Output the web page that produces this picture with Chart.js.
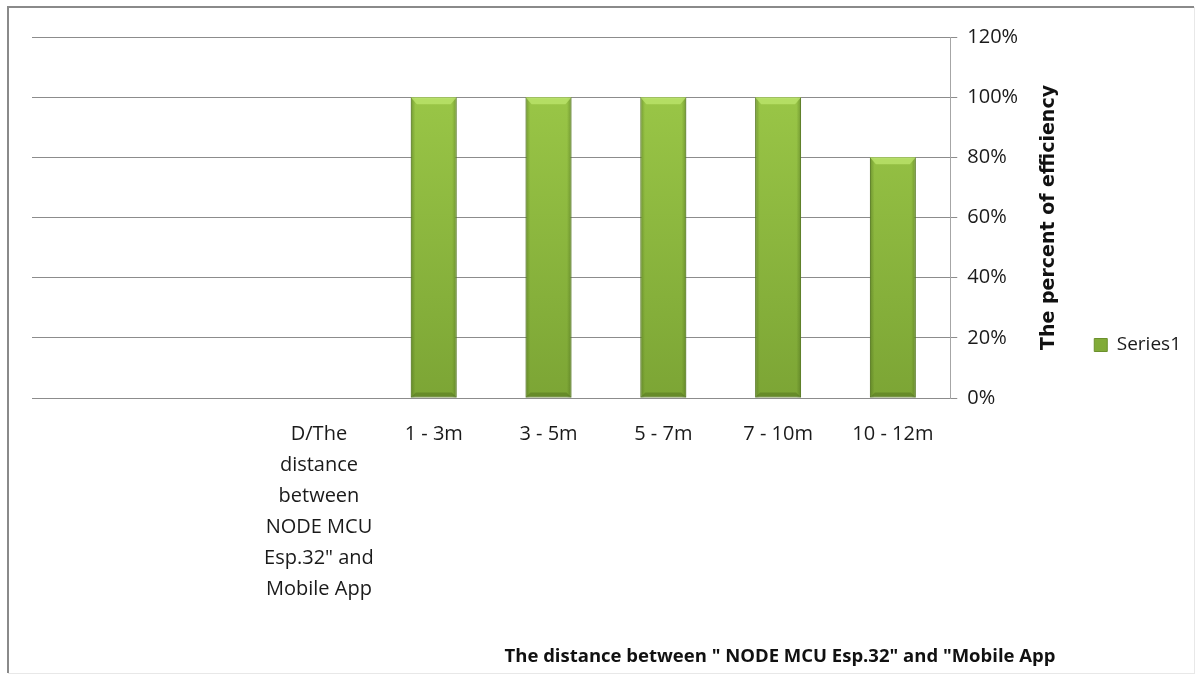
<!DOCTYPE html>
<html>
<head>
<meta charset="utf-8">
<script src="https://cdn.jsdelivr.net/npm/chart.js@4.4.1/dist/chart.umd.min.js"></script>
<style>
  html, body { margin: 0; padding: 0; background: #fff; }
  #wrap { position: relative; width: 1197px; height: 677px; }
</style>
</head>
<body>
<div id="wrap"><canvas id="chart" width="1197" height="677"></canvas></div>
<script>
// data (two blank slots precede the header column)
var categories = ['', '', ['D/The', 'distance', 'between', 'NODE MCU', 'Esp.32" and', 'Mobile App'],
    '1 - 3m', '3 - 5m', '5 - 7m', '7 - 10m', '10 - 12m'];
var efficiency = [null, null, null, 100, 100, 100, 100, 80];
var yTicks = [0, 20, 40, 60, 80, 100, 120];
var seriesName = 'Series1';
var yTitle = 'The percent of efficiency';
var xTitle = 'The distance between " NODE MCU Esp.32" and "Mobile App';

var labelFont = 'Open Sans';

// grey frame round the whole chart, like the Excel chart border
var framePlugin = {
    id: 'frame',
    beforeDraw: function (chart) {
        var c = chart.ctx;
        c.save();
        c.fillStyle = '#fff';
        c.fillRect(0, 0, chart.width, chart.height);
        c.strokeStyle = '#e8e8e8';
        c.lineWidth = 1;
        c.strokeRect(8.5, 7.5, chart.width - 11, chart.height - 11);
        c.strokeStyle = '#8a8a8a';
        c.lineWidth = 2;
        c.beginPath();
        c.moveTo(8, chart.height - 4);
        c.lineTo(8, 7);
        c.lineTo(chart.width - 3, 7);
        c.stroke();
        c.restore();
    }
};

// bevel / shading on each bar, taken from the bar elements
var bevelPlugin = {
    id: 'bevel',
    afterDatasetsDraw: function (chart) {
        var c = chart.ctx;
        var meta = chart.getDatasetMeta(0);
        meta.data.forEach(function (bar, i) {
            if (efficiency[i] == null) return;
            var p = bar.getProps(['x', 'y', 'base', 'width'], true);
            var l = p.x - p.width / 2, r = p.x + p.width / 2, t = p.y, b = p.base;
            c.save();
            var g = c.createLinearGradient(l, 0, r, 0);
            g.addColorStop(0, 'rgba(60,90,20,0.4)');
            g.addColorStop(0.1, 'rgba(60,90,20,0.0)');
            g.addColorStop(0.9, 'rgba(60,90,20,0.0)');
            g.addColorStop(1, 'rgba(60,90,20,0.4)');
            c.fillStyle = g;
            c.fillRect(l, t, r - l, b - t);
            // top bevel
            c.fillStyle = 'rgba(190,230,110,0.75)';
            c.beginPath();
            c.moveTo(l, t);
            c.lineTo(r, t);
            c.lineTo(r - 6, t + 7);
            c.lineTo(l + 6, t + 7);
            c.closePath();
            c.fill();
            // bottom bevel
            c.fillStyle = 'rgba(70,100,25,0.4)';
            c.beginPath();
            c.moveTo(l, b);
            c.lineTo(r, b);
            c.lineTo(r - 5, b - 5);
            c.lineTo(l + 5, b - 5);
            c.closePath();
            c.fill();
            c.restore();
        });
    }
};

// axis titles: the y title reads bottom-to-top on the right side
var titlesPlugin = {
    id: 'titles',
    afterDraw: function (chart) {
        var c = chart.ctx;
        var a = chart.chartArea;
        c.save();
        c.fillStyle = '#111';
        c.font = 'bold 19px "DejaVu Sans"';
        c.textAlign = 'center';
        c.textBaseline = 'middle';
        c.translate(a.right + 99, (a.top + a.bottom) / 2);
        c.rotate(-Math.PI / 2);
        c.fillText(yTitle, 0, 0);
        c.restore();

        c.save();
        c.fillStyle = '#111';
        c.font = 'bold 18.5px "' + labelFont + '"';
        c.textAlign = 'center';
        c.textBaseline = 'alphabetic';
        c.fillText(xTitle, 780, 662);
        c.restore();
    }
};

new Chart(document.getElementById('chart'), {
    type: 'bar',
    data: {
        labels: categories,
        datasets: [{
            label: seriesName,
            data: efficiency,
            backgroundColor: function (ctx) {
                var a = ctx.chart.chartArea;
                if (!a) return '#8cb83d';
                var g = ctx.chart.ctx.createLinearGradient(0, a.top, 0, a.bottom);
                g.addColorStop(0, '#9fcc4a');
                g.addColorStop(1, '#7ca535');
                return g;
            },
            borderColor: '#6b902c',
            borderWidth: 1,
            borderSkipped: false,
            barPercentage: 0.40,
            categoryPercentage: 1.0
        }]
    },
    options: {
        responsive: false,
        animation: false,
        devicePixelRatio: 1,
        layout: {padding: {left: 32, top: 37, right: 6, bottom: 24}},
        plugins: {
            legend: {
                position: 'right',
                labels: {
                    color: '#1a1a1a',
                    boxWidth: 13,
                    boxHeight: 13,
                    padding: 8,
                    font: {family: labelFont, size: 19}
                }
            },
            tooltip: {enabled: false}
        },
        scales: {
            x: {
                grid: {display: false, drawTicks: false},
                border: {display: true, color: '#8c8c8c'},
                ticks: {
                    autoSkip: false,
                    maxRotation: 0,
                    padding: 21,
                    color: '#1a1a1a',
                    font: {family: labelFont, size: 20, lineHeight: 1.55}
                },
                afterFit: function (s) { s.height = 255; }
            },
            y: {
                position: 'right',
                min: 0,
                max: 120,
                afterBuildTicks: function (s) {
                    s.ticks = yTicks.map(function (v) { return {value: v}; });
                },
                ticks: {
                    padding: 10,
                    color: '#1a1a1a',
                    font: {family: labelFont, size: 20},
                    callback: function (v) { return v + '%'; }
                },
                grid: {color: '#8c8c8c', tickLength: 7},
                border: {color: '#a6a6a6'},
                afterFit: function (s) { s.width = 136; }
            }
        }
    },
    plugins: [framePlugin, bevelPlugin, titlesPlugin]
});
</script>
</body>
</html>
